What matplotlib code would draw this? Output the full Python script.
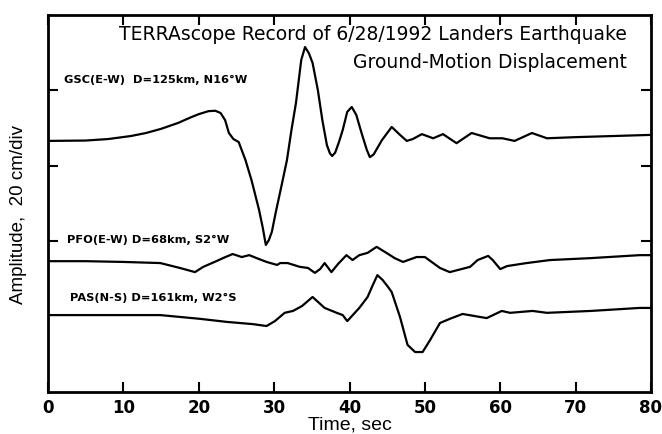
import numpy as np
import matplotlib
matplotlib.use("Agg")
import matplotlib.pyplot as plt

plt.rcParams['font.family'] = ['Liberation Sans', 'DejaVu Sans']

# GSC (E-W) trace, time in sec, position in cm
gsc_t = [0, 5, 8, 11, 13, 15, 17.3, 19, 20, 21.3, 22.2, 22.9, 23.5, 24, 24.6, 25.3, 26.2, 27,
         28, 28.5, 28.9, 29.3, 29.7, 30.2, 31, 31.7, 32.3, 32.9, 33.6, 34.1, 34.6, 35.1, 35.8,
         36.4, 37.0, 37.4, 37.7, 38.1, 38.6, 39.1, 39.7, 40.3, 40.9, 41.6, 42.3, 42.7, 43.2,
         44.3, 45.6, 46.7, 47.6, 48.4, 49.6, 51.1, 52.4, 54.2, 56.2, 58.6, 60.3, 61.9, 64.2,
         66.2, 70, 75, 80]
gsc_y = [66.6, 66.7, 67.1, 67.9, 68.7, 69.8, 71.4, 72.9, 73.7, 74.5, 74.6, 74.0, 72.1, 68.7,
         67.1, 66.3, 61.5, 56.2, 48.3, 43.5, 39.0, 40.3, 42.5, 47.5, 54.9, 61.5, 69.5, 76.7,
         88.1, 91.5, 89.9, 87.3, 80.1, 72.1, 65.5, 63.3, 62.6, 63.5, 66.3, 69.5, 74.3, 75.6,
         73.5, 68.7, 64.2, 62.3, 63.0, 66.8, 70.3, 68.2, 66.6, 67.1, 68.4, 67.3, 68.4, 66.0,
         68.7, 67.3, 67.3, 66.6, 68.7, 67.3, 67.6, 67.9, 68.2]

# PFO (E-W) trace
pfo_t = [0, 5, 10, 14.9, 17.5, 19.5, 20.6, 22.1, 23.2, 24.5, 25.7, 26.7, 27.7, 29, 30.4, 30.8,
         31.8, 33.4, 34.5, 35.4, 36.1, 36.7, 37.6, 38.5, 39.6, 40.4, 41.3, 42.4, 43.6, 44.9,
         46, 47.1, 48.9, 50, 52, 53.3, 56, 57, 58.4, 59, 60, 60.9, 63.5, 66.6, 71.9, 78.5, 80]
pfo_y = [34.7, 34.7, 34.5, 34.2, 32.9, 31.8, 33.2, 34.5, 35.5, 36.6, 35.8, 36.3, 35.5, 34.5,
         33.7, 34.2, 34.2, 33.2, 32.9, 31.6, 32.6, 34.2, 31.8, 34.0, 36.3, 35.0, 36.3, 36.9,
         38.5, 36.9, 35.5, 34.5, 35.8, 35.8, 32.9, 31.8, 33.2, 35.0, 36.1, 35.0, 32.6, 33.4,
         34.2, 35.0, 35.5, 36.3, 36.3]

# PAS (N-S) trace
pas_t = [0, 10, 14.9, 20.2, 23.7, 27.2, 29, 30.1, 31.4, 32.5, 33.7, 35.1, 36.7, 38.3, 39.1,
         39.7, 41.3, 42.4, 43.1, 43.7, 44.4, 45.1, 45.6, 46.7, 47.7, 48.7, 49.7, 50.7, 52,
         53.3, 55, 58.2, 60.2, 61.3, 64.3, 66.2, 72, 78.5, 80]
pas_y = [20.4, 20.4, 20.4, 19.4, 18.6, 18.0, 17.5, 18.8, 21.0, 21.5, 22.8, 25.2, 22.3, 21.0,
         20.4, 18.8, 22.3, 25.2, 28.4, 31.0, 29.7, 27.9, 26.5, 19.9, 12.5, 10.6, 10.6, 13.8,
         18.3, 19.4, 20.7, 19.6, 21.5, 21.0, 21.5, 21.0, 21.5, 22.3, 22.3]

labels = ["GSC(E-W)  D=125km, N16\u00b0W", "PFO(E-W) D=68km, S2\u00b0W", "PAS(N-S) D=161km, W2\u00b0S"]
label_pos = [(2.1, 82.8), (2.5, 40.3), (2.9, 24.9)]
xticks = [0, 10, 20, 30, 40, 50, 60, 70, 80]
yticks = [40, 60, 80]

fig = plt.figure(figsize=(6.62, 4.34), dpi=100)
ax = fig.add_axes([48/662, 42/434, 603/662, 377/434])

for t, y in [(gsc_t, gsc_y), (pfo_t, pfo_y), (pas_t, pas_y)]:
    ax.plot(t, y, color='black', lw=1.6, solid_joinstyle='round')

for s, (x, y) in zip(labels, label_pos):
    ax.text(x, y, s, fontsize=8.2, fontweight='bold', va='center', ha='left',
            family='DejaVu Sans')

ax.text(76.8, 94.7, "TERRAscope Record of 6/28/1992 Landers Earthquake",
        fontsize=13.5, ha='right', va='center', family='DejaVu Sans')
ax.text(76.8, 87.3, "Ground-Motion Displacement", fontsize=13.5, ha='right', va='center',
        family='DejaVu Sans')

ax.set_xlim(0, 80)
ax.set_ylim(0, 100)
ax.set_xticks(xticks)
ax.set_xticklabels([str(v) for v in xticks], fontsize=12, fontweight='bold',
                   family='DejaVu Sans')
ax.set_yticks(yticks)
ax.set_yticklabels([])
ax.tick_params(direction='in', length=7, width=1.5, top=True, right=True, pad=5)
for sp in ax.spines.values():
    sp.set_linewidth(2)

ax.set_xlabel("Time, sec", fontsize=14, labelpad=0)
ax.set_ylabel("Amplitude,  20 cm/div", fontsize=13.5)
ax.yaxis.set_label_coords(-0.035, 0.47)

fig.savefig("out.png", dpi=100)
